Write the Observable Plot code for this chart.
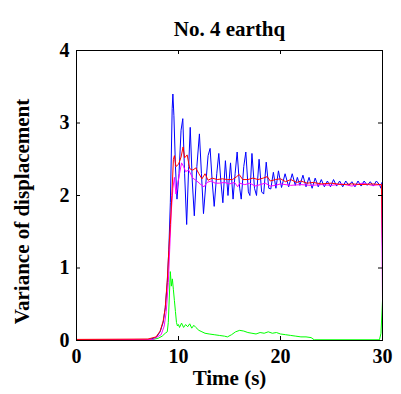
<!DOCTYPE html>
<html><head><meta charset="utf-8">
<script src="https://cdn.jsdelivr.net/npm/d3@7"></script>
<script src="https://cdn.jsdelivr.net/npm/@observablehq/plot@0.6"></script>
<style>body{margin:0;background:#fff}</style>
</head><body><div id="chart"></div>
<script>
const title = "No. 4 earthq";
const xLabel = "Time (s)";
const yLabel = "Variance of displacement";
const xTicks = [0, 10, 20, 30];
const yTicks = [0, 1, 2, 3, 4];

const blueT = [0,7.0,7.8,8.2,8.5,8.7,8.9,9.05,9.2,9.3,9.38,9.45,9.55,9.7,9.85,10.05,10.25,10.42,10.6,10.8,11.0,11.15,11.35,11.55,11.8,12.05,12.25,12.45,12.7,12.9,13.1,13.3,13.5,13.75,13.95,14.15,14.35,14.6,14.85,15.1,15.35,15.55,15.75,16.0,16.15,16.4,16.6,16.85,17.0,17.2,17.45,17.65,17.9,18.15,18.35,18.6,18.85,19.05,19.3,19.55,19.8,20.1,20.45,20.8,21.15,21.45,21.65,21.9,22.2,22.5,22.8,23.1,23.4,23.7,24.0,24.3,24.6,24.9,25.2,25.5,25.8,26.1,26.4,26.7,27.0,27.3,27.6,27.9,28.2,28.5,28.8,29.1,29.4,29.7,29.85,29.95,30];
const blueV = [0.01,0.01,0.04,0.12,0.25,0.45,0.8,1.25,1.9,2.6,3.2,3.4,3.1,2.4,1.95,2.3,2.9,3.06,2.3,1.6,2.4,2.94,2.2,1.72,2.4,2.85,2.3,1.75,2.2,2.55,2.65,2.2,1.85,2.3,2.58,2.2,1.9,2.48,2.0,2.45,1.95,2.3,2.6,2.1,1.95,2.4,2.6,2.05,2.0,2.58,2.1,2.0,2.5,2.05,2.02,2.46,2.1,2.09,2.32,2.1,2.34,2.11,2.3,2.12,2.3,2.14,2.25,2.14,2.28,2.12,2.25,2.1,2.24,2.12,2.22,2.12,2.2,2.12,2.22,2.13,2.2,2.12,2.2,2.14,2.19,2.12,2.2,2.13,2.2,2.14,2.19,2.13,2.2,2.15,2.1,2.18,1.2];

const redT = [0,7.0,7.8,8.2,8.5,8.7,8.9,9.05,9.2,9.35,9.5,9.6,9.75,10.0,10.25,10.45,10.6,10.85,11.1,11.4,11.7,12.0,12.3,12.6,12.9,13.3,13.8,14.3,14.8,15.3,15.7,15.95,16.3,16.8,17.3,17.8,18.3,18.7,19.0,19.5,20.0,20.5,21.0,21.6,22.0,22.6,23.2,24,25,26,27,28,29,29.9,30];
const redV = [0.015,0.02,0.05,0.13,0.27,0.45,0.83,1.24,1.6,2.0,2.5,2.55,2.4,2.43,2.53,2.67,2.52,2.56,2.37,2.35,2.38,2.3,2.23,2.3,2.21,2.24,2.22,2.23,2.22,2.22,2.26,2.29,2.22,2.22,2.24,2.22,2.24,2.26,2.2,2.22,2.23,2.19,2.22,2.18,2.2,2.17,2.18,2.16,2.17,2.15,2.16,2.15,2.16,2.15,1.3];

const magT = [0,7.5,8.3,8.6,8.8,9.0,9.15,9.3,9.45,9.6,9.75,9.9,10.1,10.3,10.5,10.7,11.0,11.4,11.8,12.2,12.5,12.8,13.2,13.6,14.0,14.5,15.0,15.5,15.8,16.0,16.5,17,17.5,18,18.5,19.0,19.5,20,21,22,23,24,25,26,27,28,29,29.9,30];
const magV = [0.01,0.015,0.08,0.2,0.4,0.8,1.3,1.8,2.1,2.25,2.02,2.15,2.3,2.45,2.4,2.33,2.35,2.24,2.2,2.15,2.12,2.18,2.2,2.17,2.17,2.18,2.16,2.18,2.12,2.17,2.15,2.17,2.13,2.15,2.17,2.13,2.14,2.16,2.14,2.15,2.14,2.15,2.14,2.16,2.13,2.17,2.14,2.15,0.55];

const greenT = [0,7.5,8.0,8.4,8.7,8.9,9.0,9.1,9.2,9.3,9.4,9.5,9.6,9.7,9.8,9.9,10.0,10.1,10.3,10.5,10.7,10.9,11.1,11.3,11.5,11.7,12.0,12.3,12.6,13.0,13.5,14.0,14.5,14.8,15.2,15.6,16.0,16.4,16.8,17.2,17.6,18.0,18.4,18.8,19.2,19.6,20.0,20.5,21,21.5,22,22.5,23,23.3,29.7,29.85,30];
const greenV = [0.01,0.015,0.03,0.06,0.1,0.12,0.25,0.6,0.95,0.75,0.85,0.7,0.55,0.4,0.25,0.2,0.22,0.18,0.24,0.18,0.22,0.19,0.23,0.17,0.21,0.18,0.14,0.12,0.1,0.09,0.08,0.07,0.06,0.05,0.08,0.12,0.14,0.13,0.11,0.1,0.09,0.11,0.1,0.12,0.1,0.11,0.09,0.08,0.07,0.06,0.05,0.05,0.04,0.01,0.01,0.1,0.55];

const series = [
  {name: "blue", color: "#0000ff", t: blueT, v: blueV},
  {name: "green", color: "#00ff00", t: greenT, v: greenV},
  {name: "magenta", color: "#ff00ff", t: magT, v: magV},
  {name: "red", color: "#ff0000", t: redT, v: redV}
];

const W = 401, H = 394;
const mL = 76, mR = 19, mT = 50, mB = 54;
const ph = H - mT - mB, pw = W - mL - mR;
const font = "'Liberation Serif', 'Times New Roman', serif";

const lines = series.map(s => Plot.line(s.t.map((t, i) => ({t, v: s.v[i]})), {x: "t", y: "v", stroke: s.color, strokeWidth: 1}));

const plot = Plot.plot({
  width: W, height: H,
  marginLeft: mL, marginRight: mR, marginTop: mT, marginBottom: mB,
  style: {fontFamily: font, fontWeight: "bold", background: "#fff", color: "#000"},
  x: {domain: [0, 30], ticks: xTicks},
  y: {domain: [0, 4], ticks: yTicks},
  marks: [
    ...lines,
    Plot.frame({stroke: "#000", strokeWidth: 1}),
    Plot.tickX(xTicks, {x: d => d, insetTop: ph - 4, stroke: "#000"}),
    Plot.tickX(xTicks, {x: d => d, insetBottom: ph - 4, stroke: "#000"}),
    Plot.tickY(yTicks, {y: d => d, insetRight: pw - 4, stroke: "#000"}),
    Plot.tickY(yTicks, {y: d => d, insetLeft: pw - 4, stroke: "#000"}),
    Plot.axisX(xTicks, {tickSize: 0, tickPadding: 8, fontSize: 20, fontWeight: "bold", label: null, tickFormat: d3.format("d")}),
    Plot.axisY(yTicks, {tickSize: 0, tickPadding: 7, fontSize: 20, fontWeight: "bold", label: null, tickFormat: d3.format("d")}),
    Plot.text([title], {frameAnchor: "top", dy: -15, fontSize: 21, fontWeight: "bold", lineAnchor: "bottom", text: d => d}),
    Plot.text([xLabel], {frameAnchor: "bottom", dy: 44, fontSize: 21, fontWeight: "bold", lineAnchor: "bottom", text: d => d}),
    Plot.text([yLabel], {frameAnchor: "left", dx: -54, dy: 16, rotate: -90, textAnchor: "middle", fontSize: 21, fontWeight: "bold", text: d => d})
  ]
});
document.getElementById("chart").appendChild(plot);
</script>
</body></html>
